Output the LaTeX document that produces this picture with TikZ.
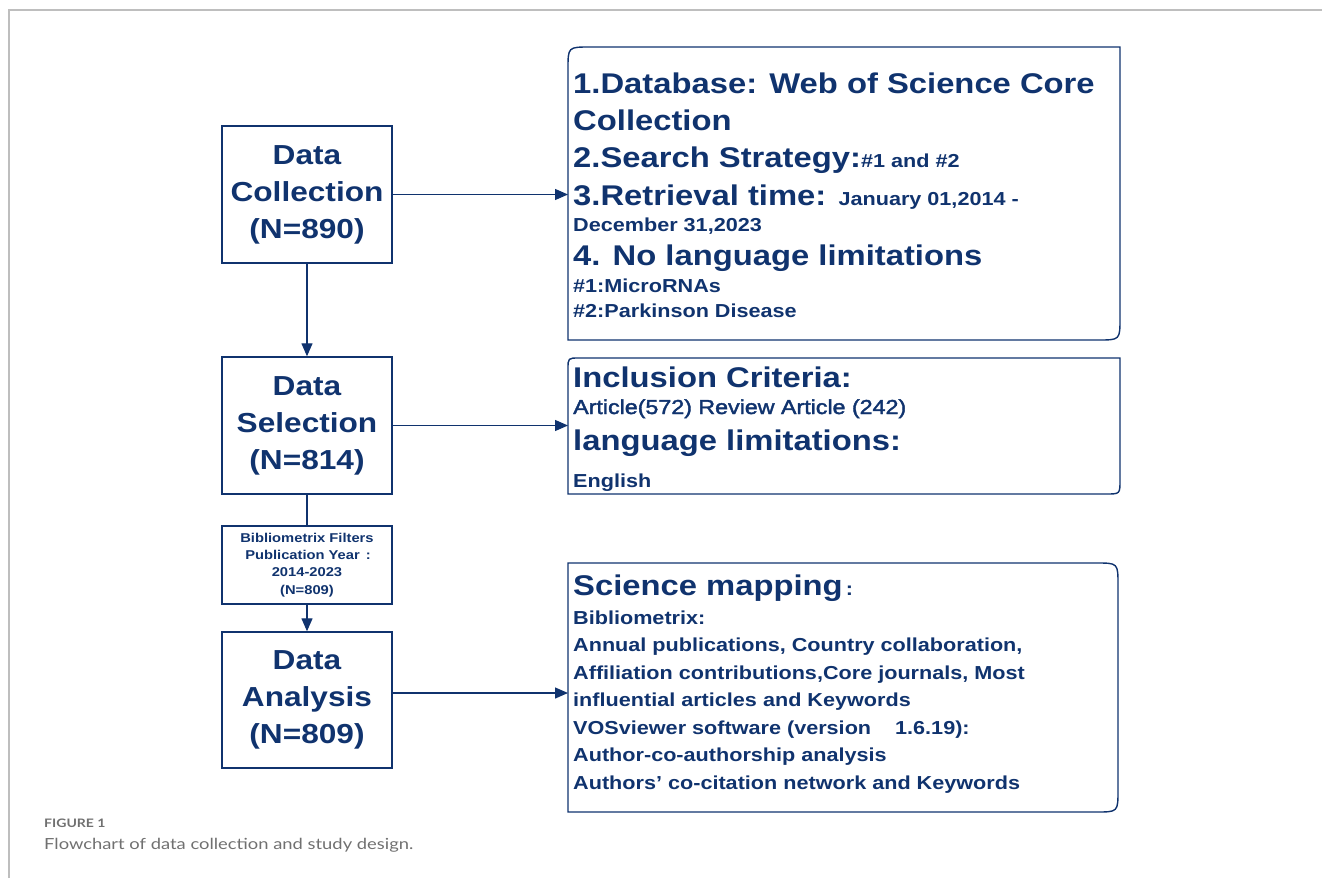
\documentclass[tikz,border=0pt]{standalone}
\usepackage{fontspec}
\usetikzlibrary{arrows.meta,calc}
\newfontfamily\chartfont{Liberation Sans}[FakeStretch=1.15]
\newfontfamily\chartmedium{Liberation Sans}[FakeStretch=1.15, FakeBold=2]
\newfontfamily\capfont{Lato}[FakeStretch=1.2]
\definecolor{navy}{RGB}{16,51,110}
\definecolor{framegray}{RGB}{190,190,190}
\definecolor{capgray}{RGB}{112,112,112}
\newcommand{\bigsz}{\fontsize{28.5}{34}\selectfont}
\newcommand{\smallsz}{\fontsize{18.8}{22}\selectfont}

\begin{document}
\begin{tikzpicture}[x=1pt,y=-1pt,
  stage/.style={draw=navy, line width=1.4pt, minimum width=170pt, text=navy,
    font=\chartfont\bfseries\fontsize{27.5}{37}\selectfont, align=center, inner sep=0pt},
  filterbox/.style={draw=navy, line width=1.4pt, minimum width=170pt, text=navy,
    font=\chartfont\bfseries\fontsize{12.8}{17.3}\selectfont, align=center, inner sep=0pt},
  panel/.style={inner sep=0pt, outer sep=0pt},
  panelline/.style={draw=navy, line width=1.4pt},
  bigline/.style={anchor=base west, inner sep=0pt, text=navy, font=\chartfont\bfseries\bigsz},
  smallline/.style={anchor=base west, inner sep=0pt, text=navy, font=\chartfont\bfseries\smallsz},
  flow/.style={draw=navy, line width=1.3pt, -{Triangle[length=13pt,width=11pt]}},
  link/.style={draw=navy, line width=1.3pt}
]
\useasboundingbox (0,0) rectangle (1322,878);

% page frame
\draw[framegray, line width=1.5pt] (9,878) -- (9,10) -- (1322,10);

% stages on the left
\node[stage, minimum height=137pt] (coll) at (307,194.5) {Data\\Collection\\(N=890)};
\node[stage, minimum height=137pt] (sel) at (307,425.5) {Data\\Selection\\(N=814)};
\node[filterbox, minimum height=78pt] (filt) at (307,565) {Bibliometrix Filters\\\hspace*{2pt}Publication Year\hspace{6pt}:\\2014-2023\\(N=809)};
\node[stage, minimum height=136pt] (ana) at (307,700) {Data\\Analysis\\(N=809)};

% detail panels on the right
\node[panel, minimum width=552pt, minimum height=293pt] (db) at (844,193.5) {};
\node[panel, minimum width=552pt, minimum height=136pt] (inc) at (844,426) {};
\node[panel, minimum width=550pt, minimum height=249pt] (sci) at (843,687.5) {};

\draw[panelline] (db.south west) -- ($(db.north west)+(0,22)$) .. controls (db.north west) .. ($(db.north west)+(22,0)$)
  -- (db.north east) -- ($(db.south east)+(0,-22)$) .. controls (db.south east) .. ($(db.south east)+(-22,0)$) -- cycle;
\draw[panelline] (inc.south west) -- ($(inc.north west)+(0,11)$) .. controls (inc.north west) .. ($(inc.north west)+(11,0)$)
  -- (inc.north east) -- ($(inc.south east)+(0,-14)$) .. controls (inc.south east) .. ($(inc.south east)+(-14,0)$) -- cycle;
\draw[panelline] (sci.south west) -- (sci.north west) -- ($(sci.north east)+(-22,0)$) .. controls (sci.north east) .. ($(sci.north east)+(0,22)$)
  -- ($(sci.south east)+(0,-22)$) .. controls (sci.south east) .. ($(sci.south east)+(-22,0)$) -- cycle;

% panel texts
\node[bigline] (db1) at (573,93) {1.Database: Web of Science Core};
\node[bigline] (db2) at (573,130) {Collection};
\node[bigline] (db3) at (573,167) {2.Search Strategy:{\smallsz\#1 and \#2}};
\node[bigline] (db4) at (573,205) {3.Retrieval time: {\smallsz January 01,2014 -}};
\node[smallline] (db5) at (573,231) {December 31,2023};
\node[bigline] (db6) at (573,265) {4. No language limitations};
\node[smallline] (db7) at (573,292) {\#1:MicroRNAs};
\node[smallline] (db8) at (573,317) {\#2:Parkinson Disease};

\node[bigline] (inc1) at (573,387) {Inclusion Criteria:};
\node[smallline, font=\chartmedium\fontsize{20.2}{22}\selectfont] (inc2) at (573,414) {Article(572) Review Article (242)};
\node[bigline] (inc3) at (573,450) {language limitations:};
\node[smallline] (inc4) at (573,487) {English};

\node[bigline] (sci1) at (573,595) {Science mapping{\smallsz\,:}};
\node[smallline] (sci2) at (573,624) {Bibliometrix:};
\node[smallline] (sci3) at (573,651.5) {Annual publications, Country collaboration,};
\node[smallline] (sci4) at (573,679) {Affiliation contributions,Core journals, Most};
\node[smallline] (sci5) at (573,706.5) {influential articles and Keywords};
\node[smallline] (sci6) at (573,734) {VOSviewer software (version\hspace{24pt}1.6.19):};
\node[smallline] (sci7) at (573,761.5) {Author-co-authorship analysis};
\node[smallline] (sci8) at (573,789) {Authors’ co-citation network and Keywords};

% connectors
\draw[flow] (coll.south) -- (sel.north);
\draw[link] (sel.south) -- (filt.north);
\draw[flow] (filt.south) -- (ana.north);
\draw[flow] (coll.east) -- (coll.east -| db.west);
\draw[flow] (sel.east) -- (sel.east -| inc.west);
\coordinate (anaout) at ($(ana.east)+(0,-7)$);
\draw[flow] (anaout) -- (anaout -| sci.west);

% caption
\node[anchor=base west, inner sep=0pt, text=capgray, font=\capfont\bfseries\fontsize{11.7}{13}\selectfont] (figlabel) at (44,827) {FIGURE 1};
\node[anchor=base west, inner sep=0pt, text=capgray, font=\capfont\fontsize{15.3}{18}\selectfont] (figcaption) at (44,849) {Flowchart of data collection and study design.};
\end{tikzpicture}
\end{document}
